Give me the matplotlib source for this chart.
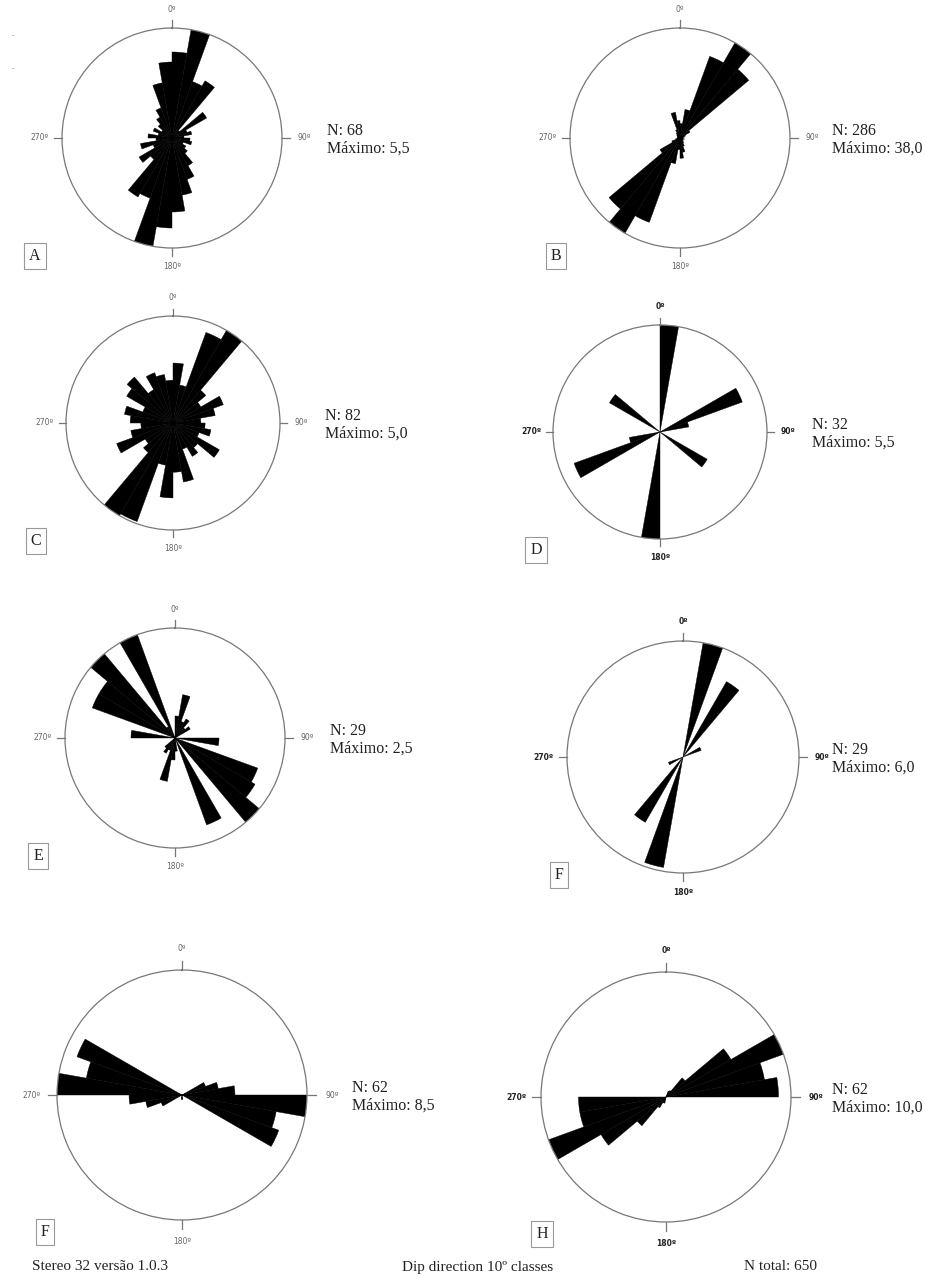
import numpy as np
import matplotlib
matplotlib.use("Agg")
import matplotlib.pyplot as plt

W, H = 925, 1279

# 10 degree dip-direction classes (bin start angles)
classes = np.arange(0, 360, 10)

# frequency per class for each station
vals_a = [4.3, 5.5, 3.0, 3.3, 0.5, 2.0, 0.8, 1.0, 0.6, 0.9, 1.0, 0.6,
          0.8, 1.0, 1.6, 2.2, 2.9, 3.7, 4.5, 5.5, 3.2, 3.4, 1.4, 1.9,
          1.0, 1.6, 0.8, 1.2, 0.7, 1.0, 0.6, 0.9, 1.2, 1.6, 2.8, 3.8]
vals_b = [5.0, 10.0, 30.0, 38.0, 31.0, 4.0, 2.0, 1.5, 1.0, 1.0, 1.5, 1.0,
          1.0, 1.5, 2.0, 3.0, 5.0, 7.0, 4.0, 9.0, 31.0, 38.0, 32.0, 8.0,
          3.0, 1.5, 1.0, 1.0, 1.0, 1.0, 1.0, 1.5, 2.0, 3.0, 9.0, 6.0]
vals_c = [2.8, 1.8, 4.5, 5.0, 2.0, 1.5, 2.5, 2.0, 1.3, 1.5, 1.8, 1.3,
          2.5, 1.5, 1.8, 1.3, 2.8, 2.3, 3.5, 2.0, 4.9, 5.0, 1.8, 1.5,
          2.8, 2.0, 1.5, 2.0, 2.3, 1.5, 2.5, 2.8, 1.8, 2.5, 2.3, 2.0]
vals_d = [5.5, 0.0, 0.0, 0.0, 0.0, 0.0, 4.5, 1.5, 0.0, 0.0, 0.0, 0.0,
          2.8, 0.0, 0.0, 0.0, 0.0, 0.0, 5.5, 0.0, 0.0, 0.0, 0.0, 0.0,
          4.7, 1.6, 0.0, 0.0, 0.0, 0.0, 3.0, 0.0, 0.0, 0.0, 0.0, 0.0]
vals_e = [0.5, 1.0, 0.4, 0.5, 0.3, 0.4, 0.0, 0.0, 0.0, 1.0, 0.0, 2.0,
          2.1, 2.5, 0.0, 2.1, 0.0, 0.3, 0.5, 1.0, 0.3, 0.4, 0.3, 0.0,
          0.0, 0.0, 0.0, 1.0, 0.0, 2.0, 2.0, 2.5, 0.3, 2.5, 0.0, 0.0]
vals_f = [0.0, 6.0, 0.0, 4.5, 0.0, 0.0, 1.0, 0.0, 0.0, 0.0, 0.0, 0.0,
          0.0, 0.0, 0.0, 0.0, 0.0, 0.0, 0.0, 5.8, 0.0, 3.9, 0.0, 0.0,
          0.8, 0.0, 0.0, 0.0, 0.0, 0.0, 0.0, 0.0, 0.0, 0.0, 0.0, 0.0]
vals_g = [0.0, 0.0, 0.0, 0.0, 0.0, 0.0, 1.7, 2.5, 3.6, 8.5, 6.5, 7.0,
          0.0, 0.0, 0.0, 0.0, 0.0, 0.3, 0.3, 0.0, 0.0, 0.0, 0.0, 0.0,
          1.5, 2.5, 3.6, 8.5, 6.6, 7.6, 0.0, 0.0, 0.0, 0.0, 0.0, 0.0]
vals_h = [0.0, 0.0, 0.5, 0.6, 2.0, 6.0, 10.0, 8.0, 9.0, 0.0, 0.0, 0.0,
          0.0, 0.0, 0.0, 0.0, 0.0, 0.0, 0.0, 0.5, 0.5, 1.0, 3.0, 6.0,
          10.0, 7.0, 7.0, 0.0, 0.0, 0.0, 0.0, 0.0, 0.0, 0.0, 0.0, 0.0]

letters = ["A", "B", "C", "D", "E", "F", "F", "H"]
n_values = [68, 286, 82, 32, 29, 29, 62, 62]
maximos = ["5,5", "38,0", "5,0", "5,5", "2,5", "6,0", "8,5", "10,0"]
max_values = [5.5, 38.0, 5.0, 5.5, 2.5, 6.0, 8.5, 10.0]
series = [vals_a, vals_b, vals_c, vals_d, vals_e, vals_f, vals_g, vals_h]

# panel geometry in pixels: centre x, centre y, radius
centres = [(172, 138, 110), (680, 138, 110),
           (173, 423, 107), (660, 432, 107),
           (175, 738, 110), (683, 757, 116),
           (182, 1095, 125), (666, 1097, 125)]
bold_labels = [False, False, False, True, False, True, False, True]

fig = plt.figure(figsize=(W / 100, H / 100), dpi=100)
fig.patch.set_facecolor("white")

serif = ["Liberation Serif", "DejaVu Serif"]


def px(x, y):
    return x / W, 1 - y / H


for i in range(8):
    cx, cy, r = centres[i]
    ax = fig.add_axes([(cx - r) / W, 1 - (cy + r) / H, 2 * r / W, 2 * r / H],
                      projection="polar")
    ax.set_theta_zero_location("N")
    ax.set_theta_direction(-1)
    theta = np.deg2rad(classes + 5)
    ax.bar(theta, series[i], width=np.deg2rad(10), bottom=0,
           color="black", edgecolor="black", linewidth=0.3)
    ax.set_ylim(0, max_values[i])
    ax.grid(False)
    ax.set_xticks([])
    ax.set_yticks([])
    ax.spines["polar"].set_color("#777777")
    ax.spines["polar"].set_linewidth(0.9)

    # cardinal tick marks and labels
    fw = "bold" if bold_labels[i] else "normal"
    col = "#222222" if bold_labels[i] else "#666666"
    for ang, lab in [(0, "0º"), (90, "90º"), (180, "180º"), (270, "270º")]:
        t = np.deg2rad(ang)
        ax.plot([t, t], [max_values[i], max_values[i] * 1.07], color="#777777",
                lw=0.9, clip_on=False)
        off = 1.17 if ang in (0, 180) else 1.2
        ax.text(t, max_values[i] * off, lab, ha="center", va="center",
                fontsize=5.5, color=col, fontweight=fw, family="DejaVu Sans")

    # counts and maximum
    tx = min(cx + r + 45, 832)
    fig.text(*px(tx, cy + 2), "N: %d\nMáximo: %s" % (n_values[i], maximos[i]),
             ha="left", va="center", fontsize=11.5, family=serif,
             color="#222222", linespacing=1.1)

    # boxed station letter
    bx = cx - 137 if i % 2 == 0 else cx - 124
    by = cy + 118 if i < 6 else cy + 137
    fig.text(*px(bx, by), letters[i], ha="center", va="center",
             fontsize=11.5, family=serif, color="#222222",
             bbox=dict(boxstyle="square,pad=0.3", fc="white", ec="#999999", lw=0.8))

# footer
fig.text(*px(32, 1267), "Stereo 32 versão 1.0.3", ha="left", va="center",
         fontsize=11, family=serif, color="#222222")
fig.text(*px(478, 1267), "Dip direction 10º classes", ha="center", va="center",
         fontsize=11, family=serif, color="#222222")
fig.text(*px(780, 1267), "N total: 650", ha="center", va="center",
         fontsize=11, family=serif, color="#222222")

# stray marks in the upper left corner
fig.text(*px(13, 35), "-", fontsize=5, color="#888888", ha="center", va="center")
fig.text(*px(13, 68), "-", fontsize=5, color="#888888", ha="center", va="center")

fig.savefig("out.png", dpi=100)
